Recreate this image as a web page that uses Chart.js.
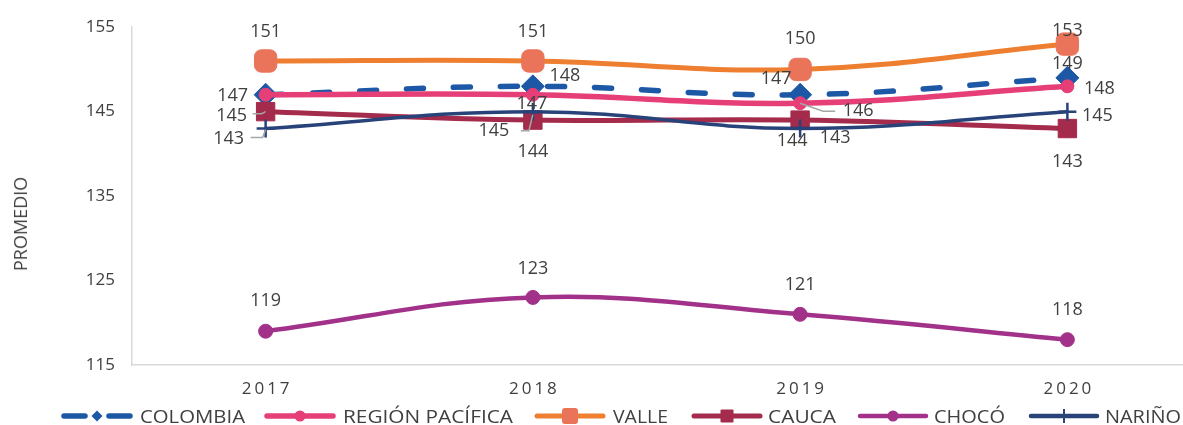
<!DOCTYPE html>
<html>
<head>
<meta charset="utf-8">
<script src="https://cdn.jsdelivr.net/npm/chart.js@4.4.1/dist/chart.umd.min.js"></script>
<style>
  html, body { margin: 0; padding: 0; background: #fff; overflow: hidden; }
  #wrap { position: relative; width: 1183px; height: 425px; overflow: hidden; font-family: "Open Sans", sans-serif; color: #404040; }
  #chart { position: absolute; left: 0; top: 0; }
  #ytitle { position: absolute; left: 20px; top: 224px; transform: translate(-50%, -50%) rotate(-90deg); font-size: 18px; white-space: nowrap; }
  .lg-sample { position: absolute; top: 406px; }
  .lg-text { position: absolute; top: 405px; font-size: 18px; line-height: 22px; white-space: nowrap; transform-origin: 0 50%; }
</style>
</head>
<body>
<div id="wrap">
  <canvas id="chart" width="1250" height="425"></canvas>
  <div id="ytitle">PROMEDIO</div>
  <div id="legend"></div>
</div>
<script>
// data
const years = ['2017', '2018', '2019', '2020'];
const colombia = [147, 148, 147, 149];
const regionPacifica = [147, 147, 146, 148];
const valle = [151, 151, 150, 153];
const cauca = [145, 144, 144, 143];
const choco = [119, 123, 121, 118];
const narino = [143, 145, 143, 145];
const yTicks = [115, 125, 135, 145, 155];

// styles
const series = [
    { label: 'COLOMBIA', data: colombia, color: '#1D58A6', marker: 'rectRot', radius: 11.5, width: 5.5, dash: [17, 30] },
    { label: 'REGIÓN PACÍFICA', data: regionPacifica, color: '#E63F77', marker: 'circle', radius: 6.5, width: 5.5 },
    { label: 'VALLE', data: valle, color: '#EE7F31', markerColor: '#E9745A', marker: 'rectRounded', radius: 13, width: 5 },
    { label: 'CAUCA', data: cauca, color: '#A42B4B', marker: 'rect', radius: 13, width: 5 },
    { label: 'CHOCÓ', data: choco, color: '#A2318A', marker: 'circle', radius: 7, width: 4.5 },
    { label: 'NARIÑO', data: narino, color: '#28437A', marker: 'cross', radius: 9, width: 3.5, pointBorder: 2.5 },
];

// label offsets from each point: [dx, dy] or {dx, dy, leader}; null = hidden (overlaps)
const labelPlacement = {
    'COLOMBIA': [[-33, 1], [32, -10], [-24, -16], [0, -14]],
    'REGIÓN PACÍFICA': [null, [-1, 9], { dx: 58, dy: 8, leader: [[0, 0], [23, 8], [35, 8]] }, [32, 3]],
    'VALLE': [[0, -29], [0, -29], [0, -31], [0, -13]],
    'CAUCA': [{ dx: -34, dy: 4, leader: [[-13, 2], [-4, 2], [0, 0]] }, [0, 32], [-8, 21], [0, 33]],
    'CHOCÓ': [[0, -30], [0, -29], [0, -29], [0, -30]],
    'NARIÑO': [{ dx: -37, dy: 10, leader: [[-15, 9], [-3, 9], [0, 1]] }, { dx: -39, dy: 19, leader: [[-12, 19], [-4, 19], [0, 3]] }, [35, 9], [30, 4]],
};

// legend positions: sample left, text left, text width
const legendLayout = [
    [61, 140, 105],
    [264, 343, 170],
    [534, 613, 55],
    [691, 768, 68],
    [857, 934, 71],
    [1028, 1105, 76],
];

const pointLabels = {
    id: 'pointLabels',
    afterDatasetsDraw(chart) {
        const ctx = chart.ctx;
        ctx.save();
        ctx.font = '18px "Open Sans"';
        ctx.fillStyle = '#404040';
        ctx.textAlign = 'center';
        ctx.textBaseline = 'middle';
        chart.data.datasets.forEach((ds, i) => {
            const meta = chart.getDatasetMeta(i);
            const place = labelPlacement[ds.label];
            meta.data.forEach((pt, j) => {
                let p = place[j];
                if (!p) return;
                if (Array.isArray(p)) p = { dx: p[0], dy: p[1] };
                if (p.leader) {
                    ctx.beginPath();
                    ctx.strokeStyle = '#A6A6A6';
                    ctx.lineWidth = 1.5;
                    p.leader.forEach((q, k) => {
                        if (k === 0) ctx.moveTo(pt.x + q[0], pt.y + q[1]);
                        else ctx.lineTo(pt.x + q[0], pt.y + q[1]);
                    });
                    ctx.stroke();
                }
                ctx.fillText(ds.data[j], pt.x + p.dx, pt.y + p.dy);
            });
        });

        // x tick labels (spaced like the original)
        const xs = chart.scales.x;
        ctx.font = '17px "Open Sans"';
        ctx.letterSpacing = '3px';
        years.forEach((y, i) => {
            ctx.fillText(y, xs.getPixelForTick(i) + 1.5, 389);
        });
        ctx.restore();
    }
};

const chart = new Chart(document.getElementById('chart'), {
    type: 'line',
    data: {
        labels: years,
        datasets: series.map((s, i) => ({
            label: s.label,
            data: s.data,
            borderColor: s.color,
            backgroundColor: s.markerColor || s.color,
            borderWidth: s.width,
            borderDash: s.dash || [],
            borderCapStyle: 'round',
            borderJoinStyle: 'round',
            pointStyle: s.marker,
            pointRadius: s.radius,
            pointHoverRadius: s.radius,
            pointBackgroundColor: s.markerColor || s.color,
            pointBorderColor: s.markerColor || s.color,
            pointBorderWidth: s.pointBorder || 1,
            tension: 0.4,
            fill: false,
            order: series.length - i,
        })),
    },
    options: {
        responsive: false,
        animation: false,
        layout: { padding: { top: 23, right: 49, bottom: 0, left: 0 } },
        plugins: {
            legend: { display: false },
            tooltip: { enabled: false },
        },
        scales: {
            x: {
                offset: true,
                grid: { display: false, drawTicks: false, offset: true },
                border: { color: '#D9D9D9', width: 1.5 },
                ticks: { display: false },
                afterFit(scale) { scale.height = 60; },
            },
            y: {
                min: 115,
                max: 155,
                afterBuildTicks(scale) { scale.ticks = yTicks.map(v => ({ value: v })); },
                grid: { display: false, drawTicks: false },
                border: { color: '#D9D9D9', width: 1.5 },
                ticks: { padding: 17, color: '#404040', font: { family: '"Open Sans"', size: 17 } },
                afterFit(scale) { scale.width = 132; },
            },
        },
    },
    plugins: [pointLabels],
});

// html legend
function markerSvg(s) {
    const c = s.markerColor || s.color;
    const cy = 10, cx = 36;
    switch (s.marker) {
        case 'rectRot': return `<path d="M${cx - 5.5} ${cy} L${cx} ${cy - 5.5} L${cx + 5.5} ${cy} L${cx} ${cy + 5.5} Z" fill="${c}"/>`;
        case 'circle': return `<circle cx="${cx}" cy="${cy}" r="5.5" fill="${c}"/>`;
        case 'rectRounded': return `<rect x="${cx - 8}" y="${cy - 8}" width="16" height="16" rx="3" fill="${c}"/>`;
        case 'rect': return `<rect x="${cx - 6.5}" y="${cy - 6.5}" width="13" height="13" rx="1" fill="${c}"/>`;
        case 'cross': return `<line x1="${cx}" y1="${cy - 7}" x2="${cx}" y2="${cy + 7}" stroke="${c}" stroke-width="2"/>`;
    }
    return '';
}

const legend = document.getElementById('legend');
series.forEach((s, i) => {
    const [sx, tx, tw] = legendLayout[i];
    let line;
    if (s.dash) {
        line = `<line x1="3" y1="10" x2="24" y2="10" stroke="${s.color}" stroke-width="5.5" stroke-linecap="round"/>` +
               `<line x1="48" y1="10" x2="69" y2="10" stroke="${s.color}" stroke-width="5.5" stroke-linecap="round"/>`;
    } else {
        line = `<line x1="3" y1="10" x2="69" y2="10" stroke="${s.color}" stroke-width="${Math.max(s.width, 4.5)}" stroke-linecap="round"/>`;
    }
    const svg = document.createElement('div');
    svg.className = 'lg-sample';
    svg.style.left = sx + 'px';
    svg.innerHTML = `<svg width="72" height="20">${line}${markerSvg(s)}</svg>`;
    legend.appendChild(svg);

    const t = document.createElement('span');
    t.className = 'lg-text';
    t.style.left = tx + 'px';
    t.textContent = s.label;
    legend.appendChild(t);
    const w = t.getBoundingClientRect().width;
    t.style.transform = `scaleX(${tw / w})`;
});
</script>
</body>
</html>
